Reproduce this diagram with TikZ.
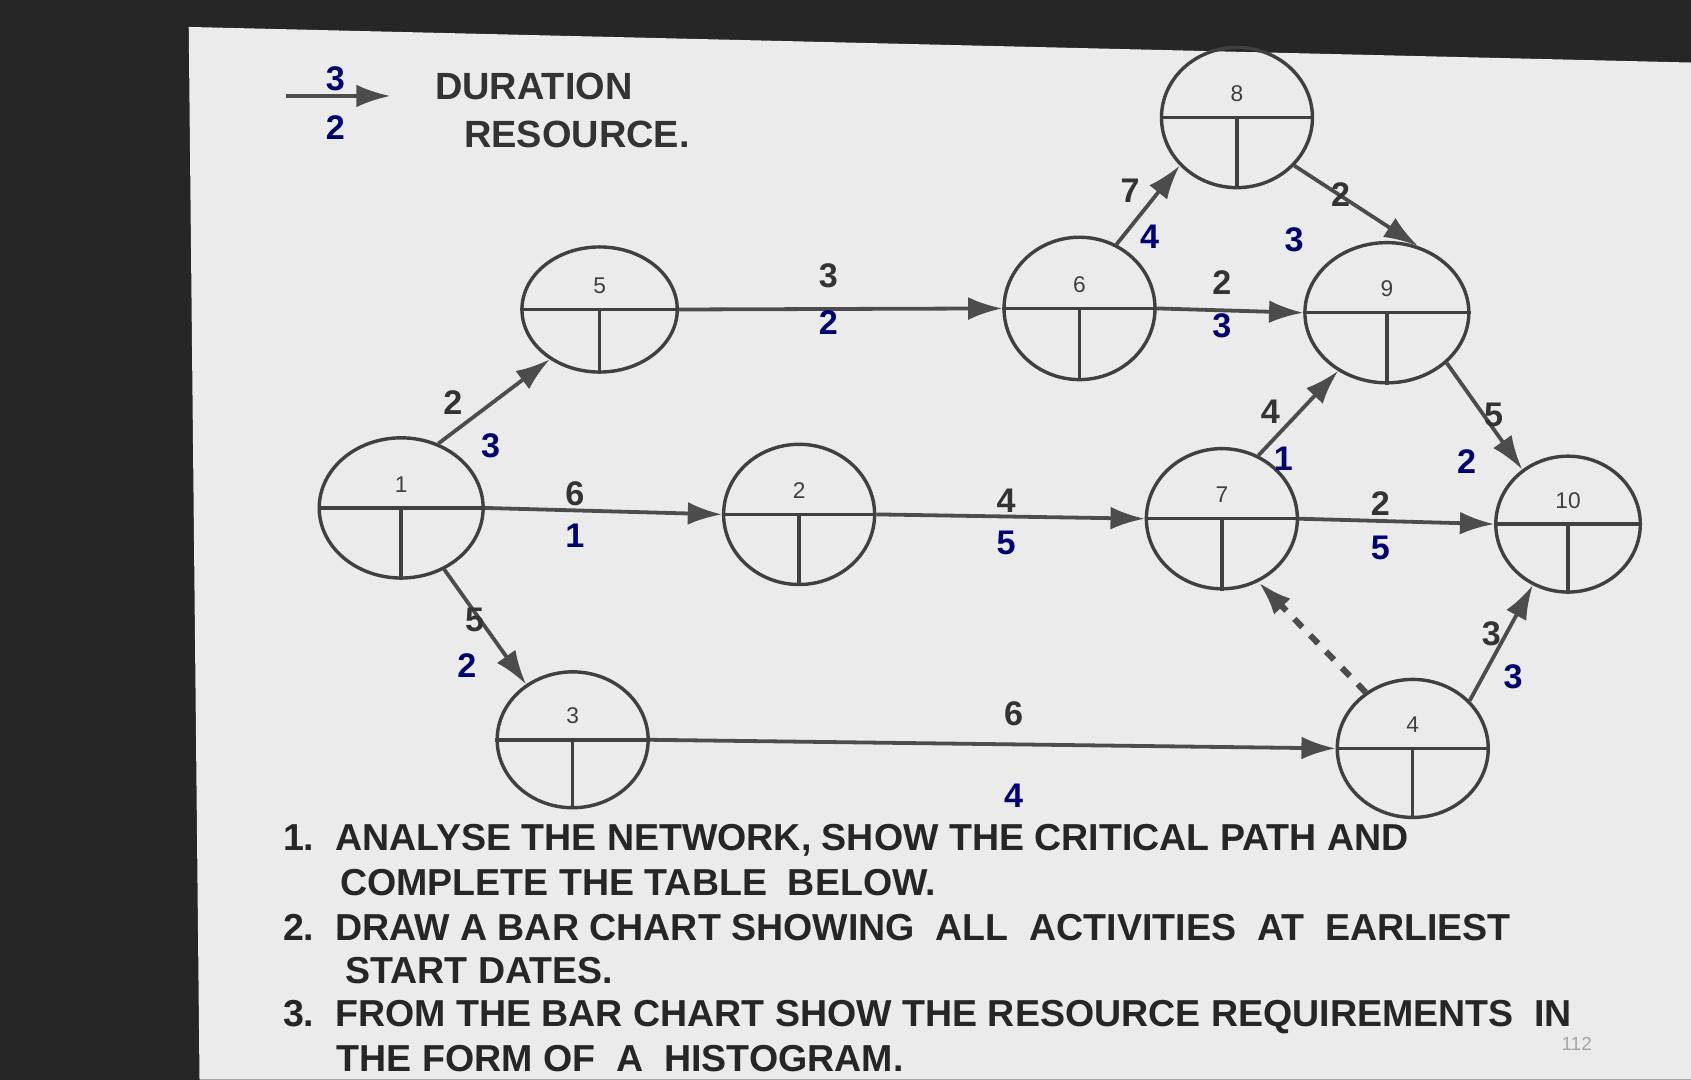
\documentclass[tikz,border=0pt]{standalone}
\usepackage{fontspec}
\setmainfont{Liberation Sans}
\usetikzlibrary{shapes.geometric,arrows.meta}
\begin{document}
\begin{tikzpicture}[x=0.01cm,y=-0.01cm,
 ev/.style={ellipse,draw=black!75,line width=0.9pt,inner sep=0pt},
 act/.style={draw=black!70,line width=1pt,-{Latex[length=9pt,width=6pt]}},
 lb/.style={font=\fontsize{9}{10}\selectfont\bfseries,text=black!80},
 lbb/.style={font=\fontsize{9}{10}\selectfont\bfseries,text=blue!45!black},
 num/.style={font=\fontsize{6}{7}\selectfont\rmfamily,text=black!75},
 tx/.style={font=\fontsize{9.9}{11}\selectfont\bfseries,text=black!85,anchor=west}]
\useasboundingbox (0,0) rectangle (1568,1001);
\fill[black!85] (0,0) rectangle (1568,1001);
\fill[black!8] (175,25) -- (1568,58) -- (1568,1001) -- (185,1001) -- cycle;
% legend
\coordinate (la) at (265,89); \coordinate (lb) at (362,89);
\draw[act] (la) -- (lb);
\node[lbb] (l3) at (311,73) {3};
\node[lbb] (l2) at (311,118) {2};
\node[lb,font=\fontsize{10}{11}\selectfont\bfseries] (ld) at (495,80) {DURATION};
\node[lb,font=\fontsize{10}{11}\selectfont\bfseries] (lr) at (535,125) {RESOURCE.};
% events
\foreach \n/\x/\y/\w/\h in {1/372/471/152/130, 5/556/287/144/116, 2/741/477/140/130, 3/531/686/140/126, 6/1001/286/140/132, 8/1147/109/140/130, 9/1286/290/152/130, 7/1133/481/140/130, 10/1454/486/134/126, 4/1310/694/140/128}{
 \node[ev,minimum width=\w*0.01cm,minimum height=\h*0.01cm] (e\n) at (\x,\y) {};
 \draw[black!75,line width=0.9pt] (e\n.west) -- (e\n.east);
 \draw[black!75,line width=0.9pt] (e\n.center) -- (e\n.south);
 \node[num] (t\n) at ([yshift=0.22cm]e\n.center) {\n};
}
% activities
\draw[act] (e1.60) -- (e5.-135);
\draw[act] (e5.east) -- (e6.west);
\draw[act] (e1.east) -- (e2.west);
\draw[act] (e2.east) -- (e7.west);
\draw[act] (e1.-55) -- (e3.130);
\draw[act] (e3.east) -- (e4.west);
\draw[act] (e6.60) -- (e8.-140);
\draw[act] (e6.east) -- (e9.west);
\draw[act] (e8.-40) -- (e9.65);
\draw[act] (e7.60) -- (e9.-130);
\draw[act] (e7.east) -- (e10.west);
\draw[act] (e9.-40) -- (e10.130);
\draw[act] (e4.40) -- (e10.-120);
\draw[act,dashed,line width=1.6pt] (e4.130) -- (e7.-60);
% labels
\node[lb] (a1) at (420,373) {2}; \node[lbb] (b1) at (455,413) {3};
\node[lb] (a2) at (768,256) {3}; \node[lbb] (b2) at (768,299) {2};
\node[lb] (a3) at (533,458) {6}; \node[lbb] (b3) at (533,497) {1};
\node[lb] (a4) at (933,464) {4}; \node[lbb] (b4) at (933,503) {5};
\node[lb] (a5) at (440,575) {5}; \node[lbb] (b5) at (433,617) {2};
\node[lb] (a6) at (940,662) {6}; \node[lbb] (b6) at (940,738) {4};
\node[lb] (a7) at (1048,177) {7}; \node[lbb] (b7) at (1066,220) {4};
\node[lb] (a8) at (1133,262) {2}; \node[lbb] (b8) at (1133,302) {3};
\node[lb] (a9) at (1243,180) {2}; \node[lbb] (b9) at (1200,222) {3};
\node[lb] (a10) at (1178,382) {4}; \node[lbb] (b10) at (1190,425) {1};
\node[lb] (a11) at (1280,467) {2}; \node[lbb] (b11) at (1280,508) {5};
\node[lb] (a12) at (1385,385) {5}; \node[lbb] (b12) at (1360,428) {2};
\node[lb] (a13) at (1383,588) {3}; \node[lbb] (b13) at (1403,628) {3};
% text
\node[tx] (q1) at (250,779) {1.\ \ ANALYSE THE NETWORK, SHOW THE CRITICAL PATH AND};
\node[tx] (q1b) at (303,818) {COMPLETE THE TABLE\ \ BELOW.};
\node[tx] (q2) at (250,860) {2.\ \ DRAW A BAR CHART SHOWING\ \ ALL\ \ ACTIVITIES\ \ AT\ \ EARLIEST};
\node[tx] (q2b) at (308,900) {START DATES.};
\node[tx] (q3) at (250,943) {3.\ \ FROM THE BAR CHART SHOW THE RESOURCE REQUIREMENTS\ \ IN};
\node[tx] (q3b) at (300,982) {THE FORM OF\ \ A\ \ HISTOGRAM.};
\node[font=\fontsize{5}{6}\selectfont,text=black!35] (pg) at (1462,968) {112};
\end{tikzpicture}
\end{document}
